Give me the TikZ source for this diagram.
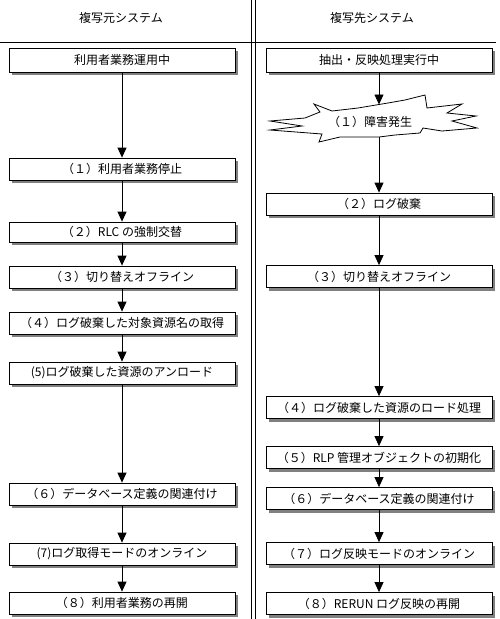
\documentclass[tikz,border=0pt]{standalone}
\usepackage{fontspec}
\newfontfamily\jpfont{Noto Sans CJK JP}
\usetikzlibrary{arrows.meta,shadows}

\begin{document}
\begin{tikzpicture}[x=1pt, y=-1pt, font=\jpfont\fontsize{12}{14}\selectfont, line width=0.8pt,
	stepbox/.style={draw, fill=white, minimum width=226pt, minimum height=22pt, inner sep=1pt, drop shadow={shadow xshift=3pt, shadow yshift=-3pt, fill=black!50, opacity=1}},
	flow/.style={-{Triangle[length=10pt, width=9pt]}}]
	\useasboundingbox (0,0) rectangle (500,619);

	% Kopfzeile
	\node (srchead) at (121,18) {複写元システム};
	\node (dsthead) at (372,18) {複写先システム};
	\draw (0,42) -- (496,42);
	\draw (251,0) -- (251,619);
	\draw (255,0) -- (255,619);

	% 複写元
	\node[stepbox, minimum height=24pt] (src0) at (122,60) {利用者業務運用中};
	\node[stepbox] (src1) at (122,169) {（１）利用者業務停止};
	\node[stepbox, minimum height=20pt] (src2) at (122,232) {（２）RLC の強制交替};
	\node[stepbox] (src3) at (122,277) {（３）切り替えオフライン};
	\node[stepbox] (src4) at (122,323) {（４）ログ破棄した対象資源名の取得};
	\node[stepbox] (src5) at (122,373) {(5)ログ破棄した資源のアンロード};
	\node[stepbox] (src6) at (122,494) {（６）データベース定義の関連付け};
	\node[stepbox] (src7) at (122,554) {(7)ログ取得モードのオンライン};
	\node[stepbox] (src8) at (122,603) {（８）利用者業務の再開};

	\draw[flow] (src0) -- (src1);
	\draw[flow] (src1) -- (src2);
	\draw[flow] (src2) -- (src3);
	\draw[flow] (src3) -- (src4);
	\draw[flow] (src4) -- (src5);
	\draw[flow] (src5) -- (src6);
	\draw[flow] (src6) -- (src7);
	\draw[flow] (src7) -- (src8);

	% 複写先
	\node[stepbox, minimum height=24pt] (dst0) at (379,60) {抽出・反映処理実行中};
	\draw[fill=white] (314,104) -- (332,111) -- (358,108) -- (388,103) -- (405,100) -- (425,95) -- (427,108) -- (462,104) -- (447,113) -- (476,116) -- (452,121) -- (477,128) -- (442,131) -- (423,128) -- (420,133) -- (395,135) -- (379,137) -- (340,137) -- (319,142) -- (322,134) -- (270,130) -- (302,126) -- (270,121) -- (305,118) -- (320,112) -- cycle;
	\node (fault) at (370,122) {（１）障害発生};
	\coordinate (faulttop) at (379,104.5);
	\coordinate (faultbot) at (379,137);
	\node[stepbox] (dst2) at (379,204) {（２）ログ破棄};
	\node[stepbox] (dst3) at (379,276.5) {（３）切り替えオフライン};
	\node[stepbox] (dst4) at (379,407.5) {（４）ログ破棄した資源のロード処理};
	\node[stepbox] (dst5) at (379,457.5) {（５）RLP 管理オブジェクトの初期化};
	\node[stepbox] (dst6) at (379,498.5) {（６）データベース定義の関連付け};
	\node[stepbox] (dst7) at (379,553.5) {（７）ログ反映モードのオンライン};
	\node[stepbox] (dst8) at (379,603.5) {（８）RERUN ログ反映の再開};

	\draw[flow] (dst0) -- (faulttop);
	\draw[flow] (faultbot) -- (dst2);
	\draw[flow] (dst2) -- (dst3);
	\draw[flow] (dst3) -- (dst4);
	\draw[flow] (dst4) -- (dst5);
	\draw[flow] (dst5) -- (dst6);
	\draw[flow] (dst6) -- (dst7);
	\draw[flow] (dst7) -- (dst8);
\end{tikzpicture}
\end{document}
